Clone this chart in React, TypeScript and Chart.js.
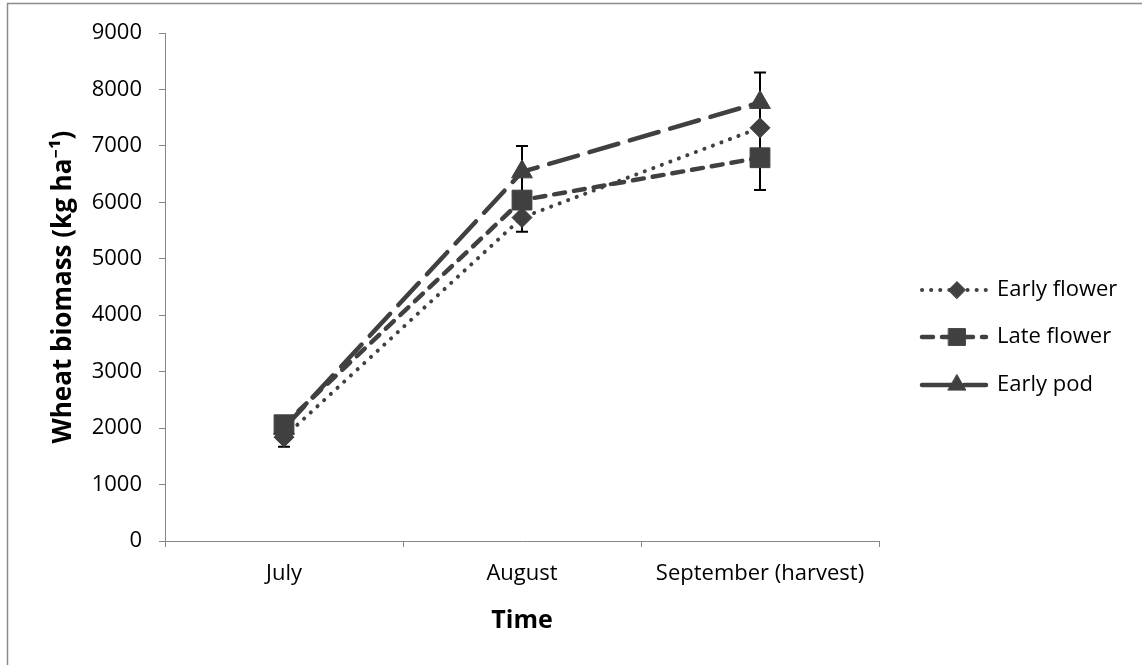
import React, { useEffect, useRef } from "react";
import { Chart, registerables } from "chart.js";

Chart.register(...registerables);

const categories = ["July", "August", "September (harvest)"];
const seriesNames = ["Early flower", "Late flower", "Early pod"];
const earlyFlower = [1840, 5730, 7320];
const lateFlower = [2060, 6040, 6790];
const earlyPod = [2000, 6540, 7770];
const errorLow = [1670, 5480, 6220];
const errorHigh = [2200, 7000, 8300];
const yMin = 0;
const yMax = 9000;
const yStep = 1000;

const FONT = "'Open Sans', 'Noto Sans', sans-serif";
const LINE = "#404040";

const styles = [
  { dash: [0.1, 9], cap: "round", width: 4, point: "rectRot", radius: 10 },
  { dash: [11, 9], cap: "round", width: 4.5, point: "rect", radius: 14 },
  { dash: [30, 12], cap: "round", width: 4.5, point: "triangle", radius: 12 },
];

function drawMarker(ctx: CanvasRenderingContext2D, style: string, r: number, x: number, y: number) {
  ctx.beginPath();
  if (style === "rectRot") {
    ctx.moveTo(x - r, y);
    ctx.lineTo(x, y - r);
    ctx.lineTo(x + r, y);
    ctx.lineTo(x, y + r);
  } else if (style === "rect") {
    const s = r * Math.SQRT1_2;
    ctx.rect(x - s, y - s, 2 * s, 2 * s);
  } else {
    const c = Math.cos(Math.PI / 6) * r;
    ctx.moveTo(x, y - r);
    ctx.lineTo(x + c, y + r / 2);
    ctx.lineTo(x - c, y + r / 2);
  }
  ctx.closePath();
  ctx.fill();
  ctx.stroke();
}

const errorBarPlugin = {
  id: "errorBars",
  beforeDatasetsDraw(chart: any) {
    const { ctx, scales } = chart;
    const x = scales.x;
    const y = scales.y;
    ctx.save();
    ctx.strokeStyle = "#000";
    ctx.lineWidth = 2;
    categories.forEach((_, i) => {
      const px = x.getPixelForValue(i);
      const lo = y.getPixelForValue(errorLow[i]);
      const hi = y.getPixelForValue(errorHigh[i]);
      ctx.beginPath();
      ctx.moveTo(px, lo);
      ctx.lineTo(px, hi);
      ctx.moveTo(px - 6, lo);
      ctx.lineTo(px + 6, lo);
      ctx.moveTo(px - 6, hi);
      ctx.lineTo(px + 6, hi);
      ctx.stroke();
    });
    ctx.restore();
  },
};

const frameAndLegendPlugin = {
  id: "frameLegend",
  beforeDraw(chart: any) {
    const { ctx, width, height } = chart;
    ctx.save();
    ctx.fillStyle = "#fff";
    ctx.fillRect(0, 0, width, height);
    ctx.strokeStyle = "#8c8c8c";
    ctx.lineWidth = 1.5;
    ctx.strokeRect(7.5, 3.5, width + 20, height + 20);
    ctx.restore();
  },
  afterDraw(chart: any) {
    const { ctx } = chart;
    const rows = [290, 337, 385];
    ctx.save();
    chart.data.datasets.forEach((ds: any, i: number) => {
      const yy = rows[i];
      ctx.strokeStyle = LINE;
      ctx.lineWidth = ds.borderWidth;
      ctx.lineCap = ds.borderCapStyle;
      ctx.setLineDash(ds.borderDash);
      ctx.beginPath();
      ctx.moveTo(922, yy);
      ctx.lineTo(986, yy);
      ctx.stroke();
      ctx.setLineDash([]);
      ctx.fillStyle = LINE;
      ctx.strokeStyle = LINE;
      ctx.lineWidth = 1;
      drawMarker(ctx, ds.pointStyle, ds.pointRadius * 0.85, 957, yy);
      ctx.fillStyle = "#000";
      ctx.font = `22px ${FONT}`;
      ctx.textBaseline = "middle";
      ctx.textAlign = "left";
      ctx.fillText(ds.label, 997, yy);
    });
    ctx.restore();
  },
};

export default function App() {
  const ref = useRef<HTMLCanvasElement | null>(null);
  useEffect(() => {
    if (!ref.current) return;
    const values = [earlyFlower, lateFlower, earlyPod];
    const chart = new Chart(ref.current, {
      type: "line",
      data: {
        labels: categories,
        datasets: values.map((v, i) => ({
          label: seriesNames[i],
          data: v,
          borderColor: LINE,
          backgroundColor: LINE,
          borderWidth: styles[i].width,
          borderDash: styles[i].dash,
          borderCapStyle: styles[i].cap as any,
          pointStyle: styles[i].point as any,
          pointRadius: styles[i].radius,
          pointBackgroundColor: LINE,
          pointBorderColor: LINE,
          pointBorderWidth: 1,
          tension: 0,
          fill: false,
          order: 3 - i,
        })),
      },
      options: {
        responsive: false,
        animation: false,
        events: [],
        layout: { padding: { left: 0, top: 33, right: 263, bottom: 0 } },
        plugins: { legend: { display: false }, tooltip: { enabled: false } },
        scales: {
          x: {
            offset: true,
            grid: { offset: true, drawOnChartArea: false, drawTicks: true, tickLength: 6, color: "#868686" },
            border: { color: "#868686", width: 1 },
            ticks: { color: "#000", padding: 14, font: { family: FONT, size: 22 }, maxRotation: 0, autoSkip: false },
            title: { display: true, text: "Time", color: "#000", font: { family: FONT, size: 25, weight: "bold" }, padding: { top: 0, bottom: 29 } },
            afterFit(scale: any) { scale.height = 124; },
          },
          y: {
            min: yMin,
            max: yMax,
            grid: { drawOnChartArea: false, drawTicks: true, tickLength: 6, color: "#868686" },
            border: { color: "#868686", width: 1 },
            ticks: {
              stepSize: yStep,
              color: "#000",
              padding: 17,
              font: { family: FONT, size: 22 },
              callback: (v: any) => String(v),
            },
            title: { display: true, text: "Wheat biomass (kg ha⁻¹)", color: "#000", font: { family: FONT, size: 26, weight: "bold" }, padding: { top: 48, bottom: 0 } },
            afterFit(scale: any) { scale.width = 165; },
          },
        },
      },
      plugins: [errorBarPlugin, frameAndLegendPlugin],
    });
    return () => chart.destroy();
  }, []);
  return (
    <div style={{ position: "fixed", left: 0, top: 0, width: 1142, height: 665 }}>
      <canvas ref={ref} width={1142} height={665} />
    </div>
  );
}
